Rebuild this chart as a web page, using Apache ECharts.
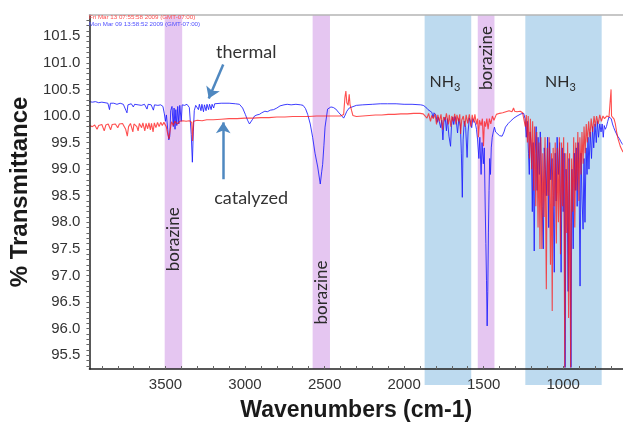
<!DOCTYPE html>
<html>
<head>
<meta charset="utf-8">
<script src="https://cdn.jsdelivr.net/npm/echarts@6/dist/echarts.min.js"></script>
<style>
  html, body { margin: 0; padding: 0; background: #fff; }
  #chart { width: 623px; height: 428px; }
</style>
</head>
<body>
<div id="chart"></div>
<script>
// FTIR spectra: [wavenumber (cm-1), % transmittance]
const thermal = [
  [3978,100.27],[3960,100.26],[3940,100.27],[3920,100.25],[3900,100.26],[3880,100.25],[3862,100.24],[3852,100.12],
  [3846,100.24],[3825,100.24],[3805,100.22],[3785,100.24],[3765,100.22],[3748,100.10],[3742,100.06],[3736,100.21],
  [3715,100.23],[3702,100.17],[3694,100.22],[3672,100.21],[3652,100.20],[3632,100.22],[3616,100.13],[3609,100.22],
  [3590,100.21],[3576,100.11],[3569,100.21],[3548,100.20],[3530,100.21],[3516,100.18],[3507,100.04],[3500,99.90],
  [3494,100.02],[3486,99.75],[3479,99.55],[3473,99.62],[3467,100.10],[3459,100.18],[3451,99.80],[3446,100.15],
  [3440,99.75],[3435,100.12],[3429,99.82],[3423,100.18],[3416,99.85],[3410,100.20],[3401,99.90],[3395,100.21],
  [3380,100.20],[3365,100.22],[3350,100.16],[3338,99.65],[3331,99.13],[3325,99.70],[3319,100.10],[3310,100.20],
  [3300,100.21],[3293,100.12],[3287,100.22],[3277,100.10],[3271,100.22],[3261,100.08],[3255,100.21],[3245,100.10],
  [3239,100.22],[3229,100.12],[3223,100.22],[3213,100.12],[3207,100.22],[3197,100.15],[3191,100.23],[3150,100.24],
  [3100,100.24],[3060,100.23],[3035,100.22],[3015,100.15],[2998,100.03],[2984,99.92],[2972,99.85],[2964,99.86],
  [2952,99.94],[2940,100.00],[2925,100.02],[2910,100.03],[2895,100.06],[2875,100.09],[2860,100.08],[2840,100.11],
  [2820,100.12],[2800,100.15],[2780,100.19],[2755,100.21],[2735,100.22],[2710,100.21],[2680,100.22],[2650,100.21],
  [2635,100.20],[2620,100.14],[2606,100.03],[2590,99.85],[2575,99.60],[2560,99.30],[2543,99.04],[2527,98.72],
  [2518,98.95],[2512,99.09],[2504,99.45],[2497,99.79],[2481,100.13],[2460,100.17],[2445,100.16],[2429,100.13],
  [2410,100.06],[2397,100.02],[2380,99.96],[2370,100.02],[2360,100.09],[2345,100.15],[2335,100.18],[2300,100.20],
  [2260,100.21],[2200,100.22],[2150,100.23],[2105,100.23],[2050,100.23],[2000,100.22],[1950,100.22],[1896,100.21],
  [1880,100.20],[1865,100.17],[1850,100.12],[1838,100.10],[1826,100.07],[1818,99.97],[1812,100.06],[1800,100.02],
  [1792,99.88],[1786,99.98],[1776,99.95],[1770,99.78],[1764,99.92],[1756,99.55],[1750,99.88],[1742,99.98],
  [1734,99.72],[1728,99.95],[1718,99.62],[1708,99.43],[1702,99.82],[1694,99.98],[1688,99.84],[1680,99.99],
  [1672,99.90],[1664,99.68],[1656,99.95],[1646,99.80],[1640,99.30],[1634,98.47],[1629,99.55],[1622,99.90],
  [1613,99.78],[1604,99.22],[1598,99.70],[1590,99.96],[1582,99.88],[1575,99.78],[1568,99.95],[1560,99.92],
  [1552,99.86],[1545,99.75],[1538,99.55],[1530,99.20],[1524,99.60],[1516,98.90],[1510,99.50],[1502,99.10],
  [1496,99.40],[1490,98.25],[1486,97.60],[1482,96.90],[1478,96.05],[1474,96.70],[1470,97.80],[1466,98.60],
  [1462,99.20],[1457,98.90],[1452,99.40],[1446,99.60],[1438,99.72],[1432,99.79],[1425,99.70],[1415,99.67],
  [1400,99.63],[1384,99.62],[1372,99.70],[1363,99.79],[1345,99.86],[1332,99.90],[1310,99.96],[1290,100.00],
  [1265,100.04],[1248,100.05],[1240,99.95],[1232,99.60],[1226,99.90],[1218,99.30],[1213,98.90],[1208,99.70],
  [1200,99.40],[1194,98.20],[1189,99.50],[1182,97.46],[1176,99.30],[1170,99.80],[1164,98.60],[1158,99.60],
  [1150,98.90],[1144,99.70],[1132,98.30],[1125,97.50],[1119,99.40],[1112,99.00],[1106,98.50],[1098,99.60],
  [1091,97.90],[1085,99.50],[1078,98.80],[1070,99.20],[1063,98.50],[1056,97.06],[1050,99.30],[1044,98.40],
  [1038,99.60],[1030,98.90],[1022,99.50],[1013,97.06],[1006,99.40],[1000,98.20],[994,99.30],[988,95.27],
  [982,99.00],[975,98.50],[969,96.70],[963,99.20],[957,98.00],[951,95.27],[945,99.00],[937,97.50],
  [930,99.30],[924,98.60],[918,99.40],[912,98.30],[906,99.50],[900,98.80],[894,96.80],[888,99.30],
  [881,98.40],[875,97.87],[869,99.20],[863,98.00],[856,99.40],[850,98.90],[844,99.60],[838,99.00],
  [830,99.70],[822,99.20],[815,99.80],[808,99.40],[800,99.85],[792,99.50],[785,99.90],[778,99.60],
  [770,99.85],[762,99.70],[755,99.85],[748,99.60],[742,99.82],[735,99.75],[728,99.80],[720,99.90],
  [712,99.98],[705,100.00],[698,99.95],[690,99.85],[682,99.78],[674,99.72],[666,99.70],[658,99.62],
  [648,99.58],[638,99.52],[630,99.48],[624,99.46]
];

const catalyzed = [
  [3978,99.82],[3960,99.80],[3945,99.83],[3930,99.75],[3920,99.82],[3900,99.84],[3885,99.72],[3875,99.83],
  [3860,99.85],[3845,99.74],[3835,99.84],[3815,99.85],[3800,99.78],[3790,99.85],[3770,99.86],[3750,99.75],
  [3740,99.62],[3732,99.80],[3720,99.86],[3705,99.70],[3698,99.85],[3680,99.80],[3672,99.72],[3664,99.86],
  [3650,99.78],[3642,99.87],[3630,99.72],[3622,99.86],[3612,99.76],[3604,99.87],[3595,99.74],[3588,99.86],
  [3578,99.70],[3570,99.87],[3560,99.78],[3550,99.88],[3540,99.80],[3530,99.88],[3520,99.82],[3510,99.88],
  [3495,99.80],[3485,99.65],[3478,99.57],[3470,99.75],[3462,99.89],[3450,99.82],[3440,99.90],[3425,99.85],
  [3410,99.90],[3390,99.91],[3370,99.90],[3350,99.91],[3335,99.88],[3330,99.53],[3324,99.90],[3300,99.92],
  [3270,99.91],[3240,99.93],[3200,99.93],[3150,99.94],[3100,99.95],[3050,99.95],[3000,99.96],[2950,99.96],
  [2900,99.97],[2850,99.97],[2800,99.98],[2750,99.98],[2700,99.99],[2650,99.99],[2600,99.99],[2550,100.00],
  [2500,100.00],[2450,100.00],[2400,100.00],[2380,100.03],[2372,100.35],[2366,100.47],[2360,100.25],[2352,100.20],
  [2345,100.41],[2340,100.22],[2330,100.10],[2322,100.01],[2300,99.99],[2260,100.00],[2220,100.01],[2180,100.02],
  [2140,100.02],[2100,100.03],[2060,100.03],[2020,100.04],[1980,100.04],[1940,100.05],[1900,100.05],[1880,100.04],
  [1868,100.02],[1856,99.96],[1846,100.05],[1834,99.90],[1826,100.01],[1816,99.95],[1806,100.04],[1796,99.84],
  [1788,100.02],[1778,99.90],[1768,100.03],[1758,99.74],[1752,99.98],[1742,99.92],[1734,100.05],[1722,99.84],
  [1716,100.02],[1706,99.80],[1700,100.00],[1690,99.90],[1682,100.04],[1674,99.84],[1668,100.02],[1658,99.90],
  [1650,100.03],[1645,99.66],[1638,99.92],[1628,100.00],[1618,99.80],[1610,100.02],[1600,99.86],[1590,100.03],
  [1580,99.80],[1572,100.02],[1562,99.88],[1555,100.03],[1545,99.84],[1538,99.95],[1533,99.60],[1526,99.92],
  [1516,99.82],[1508,99.95],[1501,99.43],[1495,99.90],[1488,99.80],[1480,99.95],[1472,99.75],[1464,99.95],
  [1455,99.85],[1445,100.00],[1435,99.92],[1420,100.03],[1400,100.05],[1380,100.06],[1360,100.08],[1340,100.10],
  [1322,100.08],[1312,100.15],[1305,100.09],[1290,100.08],[1270,100.09],[1255,100.06],[1245,100.05],[1238,99.80],
  [1232,100.02],[1225,99.50],[1220,100.00],[1212,99.20],[1206,99.95],[1198,99.00],[1192,99.90],[1185,98.60],
  [1180,99.80],[1172,98.30],[1166,99.70],[1158,97.90],[1152,99.50],[1146,97.50],[1140,99.60],[1134,97.50],
  [1128,99.30],[1120,98.10],[1114,99.60],[1106,96.74],[1100,99.40],[1094,98.50],[1088,99.60],[1080,97.20],
  [1074,99.30],[1069,96.33],[1063,99.40],[1057,98.30],[1050,99.50],[1043,97.60],[1037,99.40],[1030,98.00],
  [1024,99.60],[1017,97.40],[1010,99.50],[1004,98.30],[997,99.60],[990,95.27],[984,99.30],[978,97.80],
  [972,99.50],[966,96.20],[960,99.30],[953,95.27],[947,99.20],[940,98.20],[934,99.60],[927,97.90],
  [921,99.50],[914,98.60],[908,99.70],[901,98.40],[895,99.60],[888,98.90],[882,99.70],[875,99.10],
  [869,99.80],[862,99.30],[855,99.85],[848,99.50],[840,99.90],[832,99.60],[824,99.95],[815,99.70],
  [806,100.00],[798,99.80],[790,100.00],[780,99.85],[770,100.02],[760,99.90],[750,100.00],[740,99.95],
  [725,100.00],[712,99.98],[702,100.00],[699,100.50],[696,100.00],[688,99.98],[680,99.94],[672,99.85],
  [664,99.70],[656,99.58],[648,99.50],[640,99.42],[632,99.37],[624,99.32]
];

// Shaded assignment bands (cm-1) and where their labels sit (% T)
const bandFrom   = [3505, 2575, 1537, 1871, 1238];
const bandTo     = [3395, 2466, 1432, 1578, 758];
const bandKind   = ['borazine', 'borazine', 'borazine', 'NH3', 'NH3'];
const bandLabelY = [97.68, 96.68, 101.09, 100.65, 100.65];

// Axis ticks and labels
const xLabels = [3500, 3000, 2500, 2000, 1500, 1000];
const yLabels = [95.5, 96.0, 96.5, 97.0, 97.5, 98.0, 98.5, 99.0, 99.5, 100.0, 100.5, 101.0, 101.5];
const xTicks = [];
for (let v = 3900; v >= 700; v -= 100) xTicks.push(v);
const yTicks = [];
for (let v = 953; v <= 1018; v++) yTicks.push(v / 10);

const X_MIN = 624, X_MAX = 3978, Y_MIN = 95.24, Y_MAX = 101.9;

const chart = echarts.init(document.getElementById('chart'), null, { renderer: 'canvas' });

function renderBand(params, api) {
  const i = api.value(2);
  const cs = params.coordSys;
  const xa = api.coord([api.value(0), Y_MIN])[0];
  const xb = api.coord([api.value(1), Y_MIN])[0];
  const left = Math.min(xa, xb);
  const w = Math.abs(xb - xa);
  const isNH3 = bandKind[i] === 'NH3';
  const cx = left + w / 2;
  const ly = api.coord([X_MIN, bandLabelY[i]])[1];
  const children = [{
    type: 'rect',
    shape: { x: left, y: cs.y, width: w, height: cs.height + (isNH3 ? 16 : 0) },
    style: { fill: isNH3 ? '#bddaef' : '#e5c6f1' }
  }];
  const font = { fontFamily: 'Lato, "Open Sans", sans-serif', fill: '#2b2b2b' };
  if (isNH3) {
    children.push({
      type: 'text', x: cx + 6, y: ly,
      style: Object.assign({ text: 'NH', fontSize: 16, align: 'right', verticalAlign: 'middle' }, font)
    });
    children.push({
      type: 'text', x: cx + 6, y: ly + 6,
      style: Object.assign({ text: '3', fontSize: 11, align: 'left', verticalAlign: 'middle' }, font)
    });
  } else {
    children.push({
      type: 'text', x: cx, y: ly, rotation: Math.PI / 2,
      style: Object.assign({ text: 'borazine', fontSize: 17, align: 'center', verticalAlign: 'middle' }, font)
    });
  }
  return { type: 'group', children: children };
}

const tickFont = { fontFamily: '"Liberation Sans", Arial, sans-serif', fontSize: 15, color: '#333' };
const noteStyle = { color: '#333', fontSize: 18, fontFamily: 'Lato, "Open Sans", sans-serif' };
const arrowColor = '#4f88c0';

chart.setOption({
  animation: false,
  backgroundColor: '#fff',
  grid: { left: 88, right: 0, top: 15, bottom: 59, containLabel: false },
  xAxis: [{
    type: 'value', inverse: true, min: X_MIN, max: X_MAX, position: 'bottom', z: 10,
    name: 'Wavenumbers (cm-1)', nameLocation: 'middle', nameGap: 30,
    nameTextStyle: { fontFamily: '"Liberation Sans", Arial, sans-serif', fontWeight: 'bold', fontSize: 23, color: '#1a1a1a' },
    axisLine: { show: true, onZero: false, lineStyle: { color: '#222', width: 1.5 } },
    axisTick: { show: true, inside: true, length: 3, customValues: xTicks, lineStyle: { color: '#666' } },
    axisLabel: Object.assign({ customValues: xLabels, margin: 8, formatter: v => String(v) }, tickFont),
    splitLine: { show: false }
  }, {
    type: 'value', inverse: true, min: X_MIN, max: X_MAX, position: 'top', z: 10,
    axisLine: { show: true, onZero: false, lineStyle: { color: '#b5b5b5', width: 1.5 } },
    axisTick: { show: false }, axisLabel: { show: false }, splitLine: { show: false }
  }],
  yAxis: {
    type: 'value', min: Y_MIN, max: Y_MAX, z: 10,
    name: '% Transmittance', nameLocation: 'middle', nameGap: 45, nameRotate: 90,
    nameTextStyle: { fontFamily: '"Liberation Sans", Arial, sans-serif', fontWeight: 'bold', fontSize: 24, color: '#1a1a1a' },
    axisLine: { show: true, onZero: false, lineStyle: { color: '#222', width: 1.5 } },
    axisTick: { show: true, inside: false, length: 3, customValues: yTicks, lineStyle: { color: '#666' } },
    axisLabel: Object.assign({ customValues: yLabels, margin: 9, formatter: v => v.toFixed(1) }, tickFont),
    splitLine: { show: false }
  },
  series: [{
    type: 'custom',
    name: 'bands',
    renderItem: renderBand,
    data: bandFrom.map((f, i) => [f, bandTo[i], i]),
    encode: { x: [0, 1] },
    clip: false,
    silent: true,
    z: 1
  }, {
    type: 'line',
    name: 'Mon Mar 09 13:58:52 2009 (GMT-07:00)',
    data: thermal,
    symbol: 'none',
    lineStyle: { color: '#1c1cff', width: 1, opacity: 0.85 },
    z: 3,
    markLine: {
      silent: true, symbol: ['none', 'arrow'], symbolSize: 11,
      label: { show: false },
      lineStyle: { color: arrowColor, width: 2.5, type: 'solid' },
      data: [
        [{ coord: [3137, 100.97] }, { coord: [3228, 100.33] }],
        [{ coord: [3137, 98.81] }, { coord: [3137, 99.88] }]
      ]
    }
  }, {
    type: 'line',
    name: 'Fri Mar 13 07:55:58 2009 (GMT-07:00)',
    data: catalyzed,
    symbol: 'none',
    lineStyle: { color: '#ff1414', width: 1.1, opacity: 0.75 },
    z: 4,
    markPoint: {
      silent: true, symbol: 'circle', symbolSize: 1,
      itemStyle: { color: 'rgba(0,0,0,0)' },
      label: Object.assign({ show: true, position: 'inside', formatter: p => p.name }, noteStyle),
      data: [
        { name: 'thermal', coord: [2992, 101.2] },
        { name: 'catalyzed', coord: [2961, 98.45] }
      ]
    }
  }],
  graphic: [{
    type: 'text', left: 89, top: 14, z: 20,
    style: { text: 'Fri Mar 13 07:55:58 2009 (GMT-07:00)', fill: '#ff5050', fontSize: 6.2, fontFamily: '"Liberation Sans", Arial, sans-serif' }
  }, {
    type: 'text', left: 89, top: 21, z: 20,
    style: { text: 'Mon Mar 09 13:58:52 2009 (GMT-07:00)', fill: '#5050ff', fontSize: 6.2, fontFamily: '"Liberation Sans", Arial, sans-serif' }
  }]
});
</script>
</body>
</html>
